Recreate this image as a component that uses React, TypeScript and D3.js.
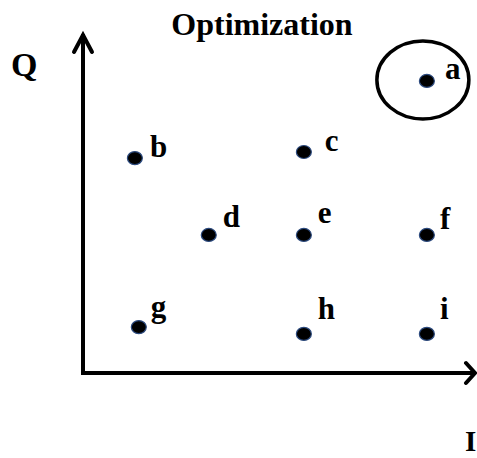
import React from "react";
import * as d3 from "d3";

const labels = ["a", "b", "c", "d", "e", "f", "g", "h", "i"];
const xValues = [8.75, 1.32, 5.62, 3.2, 5.62, 8.75, 1.42, 5.62, 8.75];
const yValues = [8.59, 6.32, 6.5, 4.06, 4.06, 4.06, 1.35, 1.15, 1.15];
const highlighted = ["a"];
const title = "Optimization";
const yAxisLabel = "Q";
const xAxisLabel = "I";

const W = 477;
const H = 458;
const FONT = "'Liberation Serif', 'Times New Roman', serif";

// label offsets (style, not data)
const labelDy: Record<string, number> = { a: -2, b: -1, c: -1, d: -8, e: -12, f: -6, g: -10, h: -15, i: -15 };
const labelDx: Record<string, number> = { a: 18, b: 15, c: 21, d: 14, e: 14, f: 13, g: 12, h: 14, i: 13 };

export default function App() {
  const x = d3.scaleLinear().domain([0, 10]).range([83, 476]);
  const y = d3.scaleLinear().domain([0, 10]).range([373, 33]);
  const x0 = x(0), y0 = y(0);
  const pts = labels.map((l, i) => ({ l, x: xValues[i], y: yValues[i] }));
  return (
    <svg width={W} height={H} style={{ position: "absolute", left: 0, top: 0, background: "#fff" }}>
      <text x={262} y={35} textAnchor="middle" fontFamily={FONT} fontWeight="bold" fontSize={32}>{title}</text>
      <text x={11} y={76} fontFamily={FONT} fontWeight="bold" fontSize={34}>{yAxisLabel}</text>
      <text x={465} y={451} fontFamily={FONT} fontWeight="bold" fontSize={29}>{xAxisLabel}</text>
      {/* axes */}
      <line x1={x0} y1={y0 + 2} x2={x0} y2={y(10) + 1} stroke="#000" strokeWidth={4} />
      <line x1={x0 - 2} y1={y0} x2={x(10) - 2} y2={y0} stroke="#000" strokeWidth={4} />
      <path d={`M${x0 - 9},${y(10) + 19} L${x0},${y(10) + 2} L${x0 + 9},${y(10) + 19}`} fill="none" stroke="#000" strokeWidth={4} strokeLinecap="round" strokeLinejoin="miter" />
      <path d={`M${x(10) - 10},${y0 - 10} L${x(10) - 1},${y0} L${x(10) - 10},${y0 + 10}`} fill="none" stroke="#000" strokeWidth={4} strokeLinecap="round" />
      {pts.filter(p => highlighted.includes(p.l)).map(p => (
        <ellipse key={"h" + p.l} cx={x(p.x) - 4} cy={y(p.y) - 1} rx={46} ry={39} fill="none" stroke="#000" strokeWidth={3.5} />
      ))}
      {pts.map(p => (
        <g key={p.l}>
          <ellipse cx={x(p.x)} cy={y(p.y)} rx={7.5} ry={6.5} fill="#000" stroke="#2c4a7e" strokeWidth={1.2} />
          <text x={x(p.x) + labelDx[p.l]} y={y(p.y) + labelDy[p.l]} fontFamily={FONT} fontWeight="bold" fontSize={31}>{p.l}</text>
        </g>
      ))}
    </svg>
  );
}
